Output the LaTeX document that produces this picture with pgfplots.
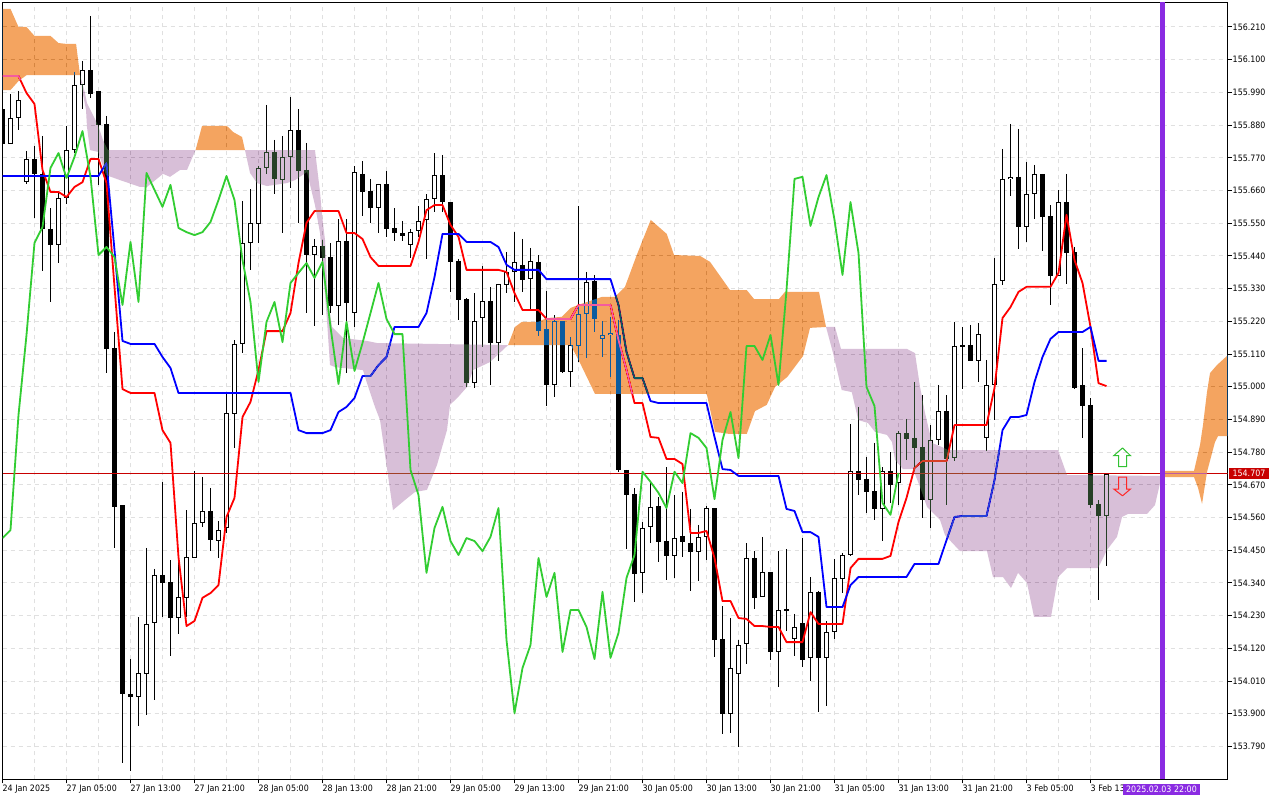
\documentclass[border=0pt]{standalone}
\usepackage{fontspec}
\setmainfont{DejaVu Sans Condensed}
\usepackage{pgfplots}
\pgfplotsset{compat=1.18}
\definecolor{gridc}{HTML}{E0E0E0}
\definecolor{xorlilac}{HTML}{274027}
\definecolor{xororange}{HTML}{0B5B9F}
\definecolor{lime}{HTML}{32CD32}
\definecolor{violetline}{HTML}{8A2BE2}
\definecolor{pricered}{HTML}{C80000}
\tikzset{wick/.style={black,line width=1pt},
 bodyo/.style={black,line width=5pt},
 bodyi/.style={white,line width=3pt,shorten >=0.9pt,shorten <=0.9pt},
 cloudl/.style={fill=xorlilac,draw=none,blend mode=difference},
 cloudo/.style={fill=xororange,draw=none,blend mode=difference},
 ichi/.style={line width=1.8pt,line join=round}}
% index, body top, body bottom, high, low
\newcommand\B[5]{\addplot[wick] coordinates {(#1,#4)(#1,#5)};\addplot[bodyo] coordinates {(#1,#2)(#1,#3)};}
\newcommand\W[5]{\addplot[wick] coordinates {(#1,#4)(#1,#5)};\addplot[bodyo] coordinates {(#1,#2)(#1,#3)};\addplot[bodyi] coordinates {(#1,#2)(#1,#3)};}
\begin{document}
\begin{tikzpicture}
\fill[white] (0,0) rectangle (1280pt,800pt);
\path[use as bounding box] (0,0) rectangle (1280pt,800pt);
\begin{axis}[at={(2.5pt,20.5pt)},anchor=south west,scale only axis,width=1225pt,height=777pt,
 xmin=0,xmax=153.125,ymin=153.6789,ymax=156.2924,
 font=\fontsize{8.8}{10}\selectfont,
 axis line style={black,line width=1pt},
 xtick={0,8,...,136},minor x tick num=1,
 xticklabels={24 Jan 2025,27 Jan 05:00,27 Jan 13:00,27 Jan 21:00,28 Jan 05:00,28 Jan 13:00,28 Jan 21:00,29 Jan 05:00,29 Jan 13:00,29 Jan 21:00,30 Jan 05:00,30 Jan 13:00,30 Jan 21:00,31 Jan 05:00,31 Jan 13:00,31 Jan 21:00,3 Feb 05:00,3 Feb 13:00},
 ytick={153.79,153.90,154.01,154.12,154.23,154.34,154.45,154.56,154.67,154.78,154.89,155.00,155.11,155.22,155.33,155.44,155.55,155.66,155.77,155.88,155.99,156.10,156.21},
 yticklabels={153.790,153.900,154.010,154.120,154.230,154.340,154.450,154.560,154.670,154.780,154.890,155.000,155.110,155.220,155.330,155.440,155.550,155.660,155.770,155.880,155.990,156.100,156.210},
 xtick pos=bottom,ytick pos=right,tick align=outside,
 major tick length=4pt,minor tick length=0pt,
 tick style={black,line width=1pt},
 xticklabel style={anchor=north west,xshift=-1pt,yshift=-0.5pt,inner sep=1pt},
 yticklabel style={anchor=west,inner sep=1pt},
 xmajorgrids,xminorgrids,ymajorgrids,
 grid style={gridc,line width=1pt,dash pattern=on 4pt off 4pt},
 minor grid style={gridc,line width=1pt,dash pattern=on 4pt off 4pt},
 no marks,
]
\B{0}{155.934}{155.817}{155.934}{155.817}
\W{1}{155.904}{155.817}{155.985}{155.817}
\W{2}{155.964}{155.904}{155.995}{155.864}
\W{3}{155.766}{155.688}{155.793}{155.682}
\B{4}{155.766}{155.716}{155.810}{155.567}
\B{5}{155.716}{155.531}{155.844}{155.390}
\B{6}{155.531}{155.477}{155.601}{155.285}
\W{7}{155.635}{155.477}{155.659}{155.416}
\W{8}{155.796}{155.635}{155.877}{155.615}
\W{9}{156.015}{155.796}{156.059}{155.786}
\W{10}{156.065}{156.015}{156.096}{155.934}
\B{11}{156.065}{155.985}{156.247}{155.971}
\B{12}{155.995}{155.880}{155.995}{155.679}
\B{13}{155.884}{155.127}{155.911}{155.046}
\B{14}{155.130}{154.596}{155.184}{154.458}
\B{15}{154.602}{153.967}{154.602}{153.735}
\B{16}{153.967}{153.957}{154.084}{153.708}
\W{17}{154.037}{153.957}{154.225}{153.859}
\W{18}{154.202}{154.034}{154.458}{153.896}
\W{19}{154.367}{154.205}{154.387}{153.946}
\B{20}{154.367}{154.340}{154.680}{154.225}
\B{21}{154.343}{154.222}{154.417}{154.094}
\W{22}{154.293}{154.222}{154.414}{154.168}
\W{23}{154.427}{154.290}{154.585}{154.225}
\W{24}{154.542}{154.424}{154.717}{154.424}
\W{25}{154.582}{154.542}{154.697}{154.528}
\B{26}{154.582}{154.484}{154.660}{154.447}
\W{27}{154.518}{154.481}{154.548}{154.424}
\W{28}{154.912}{154.525}{154.975}{154.508}
\W{29}{155.144}{154.908}{155.157}{154.794}
\W{30}{155.484}{155.144}{155.625}{155.114}
\W{31}{155.551}{155.484}{155.665}{155.393}
\W{32}{155.736}{155.547}{155.743}{155.484}
\W{33}{155.790}{155.736}{155.948}{155.716}
\B{34}{155.790}{155.699}{155.830}{155.648}
\W{35}{155.773}{155.695}{155.844}{155.517}
\W{36}{155.864}{155.773}{155.975}{155.669}
\B{37}{155.864}{155.726}{155.934}{155.551}
\B{38}{155.729}{155.443}{155.820}{155.248}
\W{39}{155.473}{155.443}{155.497}{155.204}
\B{40}{155.473}{155.433}{155.494}{155.241}
\B{41}{155.436}{155.272}{155.484}{155.248}
\W{42}{155.490}{155.272}{155.564}{155.208}
\B{43}{155.490}{155.282}{155.564}{155.046}
\W{44}{155.722}{155.248}{155.743}{155.201}
\B{45}{155.716}{155.655}{155.759}{155.574}
\B{46}{155.659}{155.601}{155.699}{155.551}
\W{47}{155.682}{155.601}{155.682}{155.517}
\B{48}{155.682}{155.531}{155.726}{155.504}
\B{49}{155.534}{155.517}{155.601}{155.490}
\B{50}{155.517}{155.507}{155.558}{155.490}
\W{51}{155.520}{155.477}{155.531}{155.433}
\W{52}{155.558}{155.524}{155.608}{155.504}
\W{53}{155.631}{155.561}{155.648}{155.430}
\W{54}{155.712}{155.631}{155.786}{155.588}
\B{55}{155.712}{155.621}{155.780}{155.588}
\B{56}{155.621}{155.420}{155.621}{155.319}
\B{57}{155.423}{155.292}{155.430}{155.224}
\B{58}{155.295}{155.012}{155.299}{154.999}
\W{59}{155.221}{155.012}{155.315}{154.996}
\W{60}{155.288}{155.231}{155.406}{155.134}
\B{61}{155.288}{155.147}{155.336}{155.006}
\W{62}{155.346}{155.147}{155.346}{155.087}
\W{63}{155.386}{155.342}{155.453}{155.315}
\W{64}{155.420}{155.386}{155.520}{155.285}
\B{65}{155.410}{155.359}{155.497}{155.319}
\W{66}{155.423}{155.362}{155.467}{155.255}
\B{67}{155.420}{155.187}{155.443}{155.171}
\B{68}{155.194}{155.006}{155.322}{154.935}
\W{69}{155.221}{155.006}{155.241}{154.965}
\B{70}{155.221}{155.050}{155.221}{155.046}
\W{71}{155.140}{155.050}{155.167}{154.999}
\W{72}{155.245}{155.137}{155.608}{155.083}
\W{73}{155.352}{155.245}{155.386}{155.097}
\B{74}{155.356}{155.228}{155.376}{155.184}
\W{75}{155.174}{155.160}{155.221}{155.100}
\W{76}{155.181}{155.174}{155.235}{155.033}
\B{77}{155.174}{154.720}{155.224}{154.714}
\B{78}{154.720}{154.636}{154.720}{154.454}
\B{79}{154.639}{154.370}{154.660}{154.276}
\W{80}{154.525}{154.374}{154.545}{154.306}
\W{81}{154.596}{154.528}{154.680}{154.474}
\B{82}{154.599}{154.478}{154.629}{154.411}
\B{83}{154.481}{154.431}{154.730}{154.350}
\W{84}{154.491}{154.431}{154.636}{154.357}
\B{85}{154.498}{154.478}{154.646}{154.427}
\B{86}{154.474}{154.444}{154.589}{154.313}
\W{87}{154.495}{154.444}{154.535}{154.347}
\W{88}{154.592}{154.495}{154.599}{154.417}
\B{89}{154.592}{154.148}{154.592}{154.091}
\B{90}{154.151}{153.899}{154.263}{153.832}
\W{91}{154.054}{153.899}{154.222}{153.835}
\W{92}{154.131}{154.034}{154.148}{153.788}
\W{93}{154.424}{154.135}{154.474}{154.067}
\B{94}{154.424}{154.290}{154.447}{154.252}
\W{95}{154.377}{154.293}{154.495}{154.293}
\B{96}{154.377}{154.108}{154.377}{154.081}
\W{97}{154.249}{154.108}{154.447}{153.990}
\B{98}{154.252}{154.246}{154.454}{154.178}
\W{99}{154.192}{154.151}{154.236}{154.094}
\B{100}{154.205}{154.081}{154.491}{154.057}
\W{101}{154.310}{154.088}{154.360}{154.010}
\B{102}{154.310}{154.088}{154.313}{153.906}
\W{103}{154.175}{154.088}{154.212}{153.926}
\W{104}{154.357}{154.175}{154.421}{154.151}
\W{105}{154.434}{154.353}{154.441}{154.306}
\W{106}{154.717}{154.434}{154.875}{154.431}
\B{107}{154.717}{154.686}{154.932}{154.636}
\B{108}{154.690}{154.646}{154.764}{154.575}
\B{109}{154.649}{154.589}{154.811}{154.552}
\W{110}{154.717}{154.589}{154.730}{154.481}
\B{111}{154.717}{154.670}{154.780}{154.609}
\W{112}{154.844}{154.676}{154.851}{154.602}
\B{113}{154.844}{154.824}{154.892}{154.754}
\B{114}{154.828}{154.794}{155.016}{154.727}
\B{115}{154.797}{154.619}{154.972}{154.558}
\W{116}{154.821}{154.619}{154.871}{154.525}
\W{117}{154.918}{154.821}{155.006}{154.804}
\B{118}{154.918}{154.757}{154.972}{154.602}
\W{119}{155.137}{154.760}{155.218}{154.750}
\B{120}{155.140}{155.134}{155.201}{154.992}
\B{121}{155.140}{155.087}{155.208}{155.087}
\W{122}{155.177}{155.087}{155.214}{155.016}
\W{123}{155.006}{154.828}{155.090}{154.784}
\W{124}{155.346}{155.006}{155.433}{154.888}
\W{125}{155.699}{155.356}{155.800}{155.342}
\W{126}{155.706}{155.699}{155.884}{155.642}
\B{127}{155.706}{155.537}{155.867}{155.463}
\W{128}{155.648}{155.537}{155.756}{155.487}
\W{129}{155.716}{155.648}{155.746}{155.564}
\B{130}{155.716}{155.571}{155.716}{155.457}
\B{131}{155.574}{155.372}{155.611}{155.275}
\W{132}{155.621}{155.372}{155.662}{155.372}
\B{133}{155.621}{155.450}{155.716}{155.346}
\B{134}{155.453}{154.996}{155.470}{154.992}
\B{135}{155.006}{154.935}{155.130}{154.828}
\B{136}{154.939}{154.602}{154.962}{154.592}
\B{137}{154.606}{154.565}{154.619}{154.283}
\W{138}{154.707}{154.565}{154.707}{154.397}
% price line
\addplot[pricered,line width=1pt] coordinates {(0,154.707)(153.125,154.707)};
% Tenkan
\addplot[red,ichi] coordinates {(0,156.045)(2,156.045)(3,155.988)(4,155.951)(5,155.729)(6,155.655)(7,155.655)(8,155.638)(9,155.672)(10,155.688)(11,155.766)(12,155.766)(13,155.685)(14,155.336)(15,154.992)(16,154.979)(19,154.979)(20,154.854)(21,154.811)(22,154.427)(23,154.195)(24,154.212)(25,154.290)(26,154.306)(27,154.333)(28,154.562)(29,154.626)(30,154.898)(31,154.949)(32,155.056)(33,155.187)(35,155.187)(36,155.248)(37,155.416)(38,155.551)(39,155.591)(42,155.591)(43,155.517)(44,155.517)(45,155.497)(46,155.436)(47,155.406)(51,155.406)(52,155.487)(53,155.594)(54,155.611)(55,155.611)(56,155.544)(57,155.504)(58,155.393)(62,155.393)(63,155.386)(64,155.315)(65,155.258)(67,155.258)(68,155.228)(71,155.228)(72,155.275)(76,155.275)(77,155.157)(78,155.056)(79,154.945)(80,154.945)(81,154.831)(82,154.828)(83,154.757)(84,154.757)(85,154.740)(86,154.508)(87,154.508)(88,154.515)(89,154.424)(90,154.279)(91,154.279)(92,154.222)(93,154.219)(94,154.195)(95,154.195)(96,154.192)(97,154.192)(98,154.141)(100,154.141)(101,154.242)(102,154.202)(105,154.202)(106,154.390)(107,154.421)(110,154.421)(111,154.431)(112,154.545)(113,154.626)(114,154.727)(115,154.750)(118,154.750)(119,154.871)(123,154.871)(124,154.996)(125,155.231)(126,155.268)(127,155.319)(128,155.336)(131,155.336)(132,155.383)(133,155.578)(134,155.426)(135,155.349)(136,155.201)(137,155.012)(138,155.002)};
% Kijun
\addplot[blue,ichi] coordinates {(0,155.709)(12,155.709)(13,155.753)(14,155.460)(15,155.154)(16,155.144)(19,155.144)(20,155.100)(21,155.063)(22,154.979)(36,154.979)(37,154.854)(38,154.844)(40,154.844)(41,154.854)(42,154.915)(43,154.932)(44,154.962)(45,155.036)(46,155.036)(47,155.073)(48,155.100)(49,155.201)(52,155.201)(53,155.248)(54,155.369)(55,155.514)(57,155.514)(58,155.487)(61,155.487)(62,155.470)(63,155.410)(64,155.393)(67,155.393)(68,155.362)(76,155.362)(77,155.275)(78,155.117)(79,155.029)(80,155.029)(81,154.952)(82,154.945)(88,154.945)(89,154.831)(90,154.723)(91,154.720)(92,154.700)(97,154.700)(98,154.589)(99,154.582)(100,154.511)(101,154.511)(102,154.495)(103,154.259)(105,154.259)(106,154.333)(107,154.360)(113,154.360)(114,154.404)(117,154.404)(118,154.484)(119,154.562)(120,154.565)(123,154.565)(124,154.686)(125,154.854)(126,154.898)(127,154.898)(128,154.905)(129,155.016)(130,155.100)(131,155.161)(132,155.184)(135,155.184)(136,155.201)(137,155.087)(138,155.087)};
% Cloud
\addplot[cloudo] coordinates {(-0.1,156.271)(1,156.271)(2,156.210)(3,156.210)(4,156.180)(6,156.180)(7,156.156)(8,156.153)(9.2,156.153)(9.69,156.048)(3,156.048)(2,156.028)(1,155.998)(-0.1,155.998)};
\addplot[cloudl] coordinates {(9.69,156.048)(10.31,155.988)(10.56,155.954)(11.94,155.880)(12.56,155.830)(13.19,155.796)(24.13,155.796)(23.06,155.729)(22.19,155.729)(20.94,155.706)(20.06,155.716)(18.06,155.672)(17.19,155.672)(14.69,155.695)(12.94,155.712)(11.94,155.790)(10.94,155.796)(10.56,155.874)(10.44,155.931)(10.03,155.988)};
\addplot[cloudo] coordinates {(24.13,155.796)(24.94,155.877)(28.06,155.877)(28.81,155.857)(29.94,155.840)(30.31,155.796)};
\addplot[cloudl] coordinates {(30.31,155.796)(39.06,155.796)(39.69,155.655)(39.94,155.578)(40.31,155.494)(40.69,155.292)(41.19,155.201)(42.56,155.164)(45.56,155.154)(46.81,155.147)(63.19,155.140)(60.94,155.083)(58.81,155.056)(58.06,154.999)(56.94,154.965)(55.94,154.939)(55.56,154.854)(54.31,154.737)(53.06,154.653)(51.56,154.646)(50.31,154.619)(48.81,154.585)(47.19,154.888)(46.56,154.932)(45.56,155.012)(45.06,155.056)(41.56,155.066)(40.94,155.073)(40.56,155.224)(40.06,155.393)(39.69,155.517)(39.06,155.611)(38.06,155.722)(36.56,155.695)(35.56,155.685)(33.06,155.675)(31.81,155.685)(30.94,155.719)};
\addplot[cloudo] coordinates {(63.19,155.140)(64.06,155.201)(64.9,155.218)(66.94,155.218)(68.03,155.231)(69.9,155.235)(71.03,155.265)(71.94,155.275)(74.9,155.302)(76.56,155.302)(77.81,155.336)(79.28,155.443)(81.03,155.561)(83.03,155.514)(83.94,155.443)(87.19,155.440)(88.44,155.420)(90.94,155.325)(93.03,155.325)(93.94,155.295)(97.06,155.295)(97.81,155.319)(102.06,155.319)(102.94,155.201)(100.94,155.198)(100.06,155.103)(98.1,155.033)(96.56,154.999)(95.53,154.939)(94.06,154.918)(93.03,154.841)(90.94,154.841)(89.06,154.848)(88.03,154.976)(74.06,154.976)(72.19,155.080)(71.03,155.140)};
\addplot[cloudl] coordinates {(102.94,155.201)(104.06,155.201)(104.81,155.127)(113.06,155.127)(114.06,155.113)(114.69,154.999)(115.31,154.912)(116.19,154.811)(117.44,154.797)(118.19,154.787)(131.94,154.787)(133.06,154.703)(144.69,154.700)(144.69,154.676)(144.06,154.602)(143.06,154.572)(140.69,154.572)(139.94,154.562)(139.31,154.495)(138.06,154.451)(136.94,154.390)(133.06,154.390)(131.94,154.360)(131.06,154.226)(128.94,154.226)(128.06,154.340)(126.94,154.374)(126.06,154.323)(125.06,154.360)(123.81,154.360)(123.06,154.447)(119.69,154.447)(117.81,154.501)(117.19,154.552)(115.56,154.596)(114.69,154.663)(113.81,154.723)(112.56,154.723)(111.56,154.754)(111.19,154.814)(110.56,154.838)(109.06,154.848)(108.19,154.878)(106.97,154.888)(106.16,154.982)(104.9,154.989)(103.81,155.114)};
\addplot[cloudo] coordinates {(144.69,154.717)(148.94,154.717)(149.69,154.804)(150.06,154.871)(150.56,154.982)(150.94,155.046)(151.81,155.073)(153.2,155.107)(153.2,154.834)(151.94,154.834)(151.56,154.814)(150.56,154.713)(149.94,154.606)(149.44,154.660)(148.94,154.696)(144.69,154.696)};
% Chikou
\addplot[lime,ichi] coordinates {(0,154.491)(1,154.518)(2,154.905)(3,155.174)(4,155.484)(5,155.537)(6,155.736)(7,155.786)(8,155.702)(9,155.773)(10,155.860)(11,155.706)(12,155.443)(13,155.470)(14,155.436)(15,155.275)(16,155.487)(17,155.285)(18,155.719)(19,155.662)(20,155.605)(21,155.679)(22,155.534)(23,155.520)(24,155.510)(25,155.520)(26,155.554)(27,155.628)(28,155.709)(29,155.628)(30,155.426)(31,155.285)(32,155.016)(33,155.218)(34,155.285)(35,155.150)(36,155.349)(37,155.383)(38,155.416)(39,155.366)(40,155.420)(41,155.201)(42,155.009)(43,155.218)(44,155.053)(45,155.147)(46,155.248)(47,155.349)(48,155.228)(49,155.177)(50,155.177)(51,154.720)(52,154.636)(53,154.374)(54,154.525)(55,154.596)(56,154.481)(57,154.434)(58,154.491)(59,154.481)(60,154.447)(61,154.495)(62,154.592)(63,154.148)(64,153.902)(65,154.054)(66,154.131)(67,154.424)(68,154.293)(69,154.374)(70,154.108)(71,154.249)(72,154.249)(73,154.192)(74,154.084)(75,154.310)(76,154.088)(77,154.172)(78,154.357)(79,154.434)(80,154.714)(81,154.680)(82,154.643)(83,154.592)(84,154.714)(85,154.676)(86,154.844)(87,154.828)(88,154.794)(89,154.622)(90,154.821)(91,154.915)(92,154.760)(93,155.137)(94,155.137)(95,155.090)(96,155.174)(97,155.006)(98,155.325)(99,155.699)(100,155.706)(101,155.541)(102,155.638)(103,155.712)(104,155.561)(105,155.376)(106,155.621)(107,155.450)(108,154.999)(109,154.935)(110,154.609)(111,154.569)(112,154.710)};
% Signal arrows
\addplot[color=green!70!black!80!white,line width=1pt] coordinates {(140,154.794)(141,154.768)(140.5,154.768)(140.5,154.731)(139.5,154.731)(139.5,154.768)(138.9,154.768)(140,154.794)};
\addplot[color=red!85!white,line width=1pt] coordinates {(140,154.633)(141,154.656)(140.5,154.656)(140.5,154.696)(139.5,154.696)(139.5,154.656)(138.9,154.656)(140,154.633)};
% Vertical date line
\addplot[violetline,line width=5pt] coordinates {(145,153.6789)(145,156.2924)};
\end{axis}
% Tags
\fill[pricered] (1229pt,321pt) rectangle (1269pt,332pt);
\node[anchor=base,text=white,inner sep=0pt,font=\fontsize{8.8}{10}\selectfont] at (1249pt,323pt) {154.707};
\fill[violetline] (1123pt,5pt) rectangle (1200pt,16pt);
\node[anchor=base,text=white,inner sep=0pt,font=\fontsize{8.8}{10}\selectfont] at (1161.5pt,7.5pt) {2025.02.03 22:00};
\end{tikzpicture}
\end{document}
